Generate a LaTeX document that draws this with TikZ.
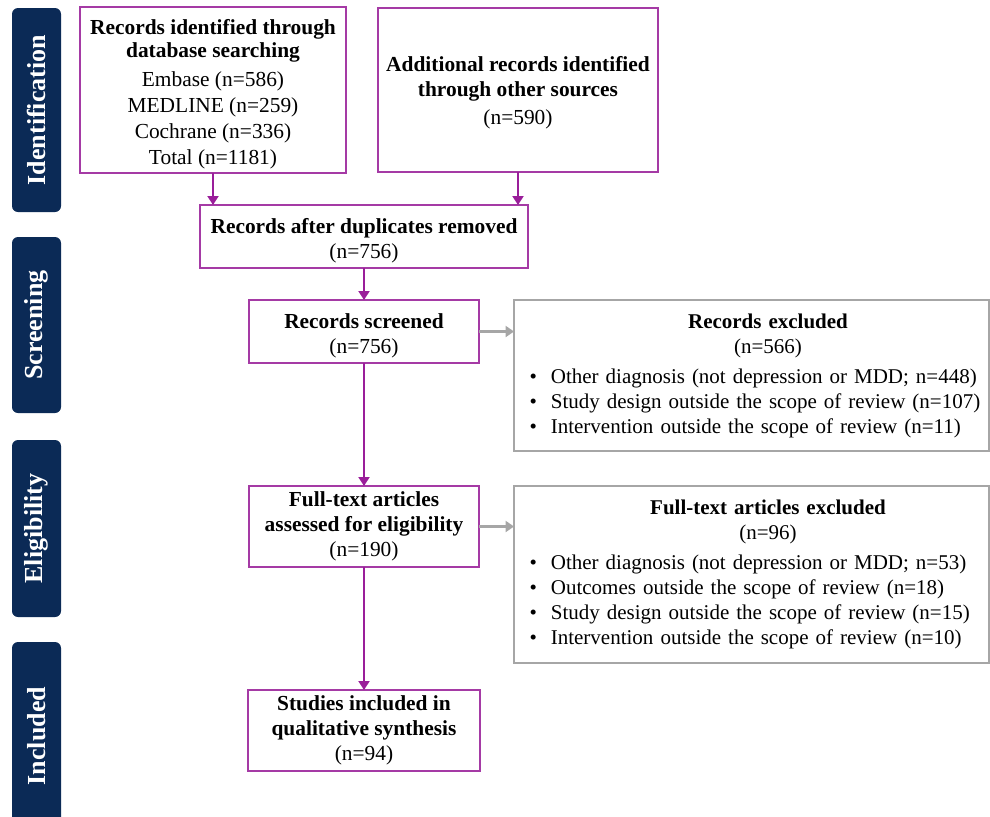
\documentclass[tikz,border=0pt]{standalone}
\usepackage{fontspec}
\setmainfont{Liberation Serif}
\usetikzlibrary{arrows.meta,positioning}
\definecolor{cBox}{HTML}{A53AA5}
\definecolor{cFlow}{HTML}{9A1E9A}
\definecolor{cExcl}{HTML}{A6A6A6}
\definecolor{cStage}{HTML}{0B2A56}
\newcommand{\txtsz}{\fontsize{10.7pt}{12.6pt}\selectfont}
\newcommand{\topstrut}{\rule{0pt}{11.8pt}}
\newcommand{\extitle}[1]{\makebox[\linewidth][c]{\hspace*{16.5pt}#1}}
\newcommand{\exitem}{\hspace*{5.5pt}\textbullet\hspace{7pt}}
\tikzset{
  box/.style={draw=#1, line width=1pt, fill=white, text=black, align=center,
              font=\txtsz, inner sep=2pt, outer sep=0pt},
  exbox/.style={box=cExcl, align=left, text width=233pt, minimum width=237.5pt,
                font=\fontsize{10.5pt}{12.5pt}\selectfont},
  stage/.style={rounded corners=3pt, fill=cStage, text=white, rotate=90,
                font=\fontsize{13pt}{15pt}\selectfont\bfseries, minimum height=24.5pt, inner sep=0pt},
  flow/.style={-{Triangle[width=5.5pt,length=4.5pt]}, line width=1pt, draw=cFlow},
  side/.style={-{Triangle[width=5.5pt,length=4.2pt]}, line width=1.3pt, draw=cExcl},
}

\begin{document}
\begin{tikzpicture}[x=0.5pt,y=-0.5pt]
  \useasboundingbox (0,0) rectangle (990,816);
  % stage bars
  \node[stage, minimum width=102pt] (sId) at (36.5,110) {Identification};
  \node[stage, minimum width=88pt] (sScr) at (36.5,325) {Screening};
  \node[stage, minimum width=88.5pt] (sElig) at (36.5,528.5) {Eligibility};
  \node[stage, minimum width=94pt] (sInc) at (36.5,736) {Included};
  % flow boxes
  \node[box=cBox, minimum width=133pt, minimum height=82pt] (db) at (213,90)
    {\topstrut\textbf{Records identified through}\\[-1.5pt]\textbf{database searching}\\[2pt]Embase (n=586)\\[0.4pt]MEDLINE (n=259)\\[0.4pt]Cochrane (n=336)\\[0.4pt]Total (n=1181)};
  \node[box=cBox, minimum width=140pt, minimum height=82pt] (other) at (518,90)
    {\mbox{}\\[-2.6pt]\textbf{Additional records identified}\\\textbf{through other sources}\\[1.5pt](n=590)};
  \node[box=cBox, minimum width=164pt, minimum height=31.5pt] (dup) at (364,236.5)
    {\topstrut\textbf{Records after duplicates removed}\\(n=756)};
  \node[box=cBox, below=16pt of dup, minimum width=115pt, minimum height=31.5pt] (scr)
    {\topstrut\textbf{Records screened}\\(n=756)};
  \node[box=cBox, below=61.5pt of scr, minimum width=115pt, minimum height=40.5pt] (ft)
    {\textbf{Full-text articles}\\\textbf{assessed for eligibility}\\(n=190)};
  \node[box=cBox, below=61.5pt of ft, minimum width=116pt, minimum height=40.5pt] (inc)
    {\textbf{Studies included in}\\\textbf{qualitative synthesis}\\(n=94)};
  % exclusion boxes
  \node[exbox, right=17.5pt of scr.north east, anchor=north west, minimum height=75.5pt] (ex1)
    {\extitle{\textbf{Records excluded}}\\\extitle{(n=566)}\\[2.5pt]
     \exitem Other diagnosis (not depression or MDD; n=448)\\
     \exitem Study design outside the scope of review (n=107)\\
     \exitem Intervention outside the scope of review (n=11)};
  \node[exbox, right=17.5pt of ft.north east, anchor=north west, minimum height=88.5pt] (ex2)
    {\extitle{\textbf{Full-text articles excluded}}\\\extitle{(n=96)}\\[2.5pt]
     \exitem Other diagnosis (not depression or MDD; n=53)\\
     \exitem Outcomes outside the scope of review (n=18)\\
     \exitem Study design outside the scope of review (n=15)\\
     \exitem Intervention outside the scope of review (n=10)};
  % connectors
  \draw[flow] (db.south) -- (db.south |- dup.north);
  \draw[flow] (other.south) -- (other.south |- dup.north);
  \draw[flow] (dup) -- (scr);
  \draw[flow] (scr) -- (ft);
  \draw[flow] (ft) -- (inc);
  \draw[side] (scr.east) -- (scr.east -| ex1.west);
  \draw[side] (ft.east) -- (ft.east -| ex2.west);
\end{tikzpicture}
\end{document}
